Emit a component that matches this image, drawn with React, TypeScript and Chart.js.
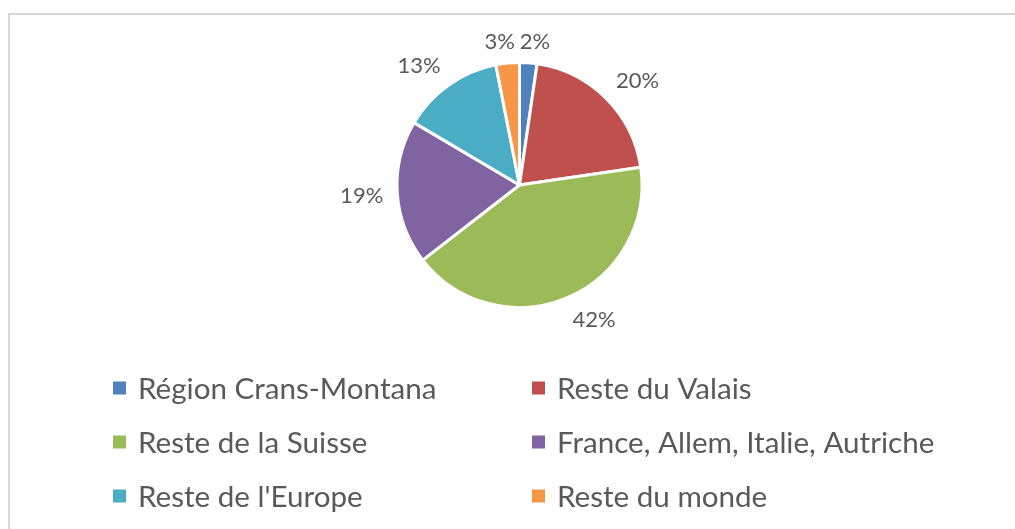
import React, { useEffect, useRef } from "react";
import { Chart, registerables } from "chart.js";

Chart.register(...registerables);

const categories = [
  "Région Crans-Montana",
  "Reste du Valais",
  "Reste de la Suisse",
  "France, Allem, Italie, Autriche",
  "Reste de l'Europe",
  "Reste du monde",
];
const shares = [2.3, 20.4, 41.8, 19.0, 13.4, 3.1];
const colors = ["#4F81BD", "#C0504D", "#9BBB59", "#8064A2", "#4BACC6", "#F79646"];

const FONT = "Lato";
const TEXT_COLOR = "#595959";
const LABEL_SIZE = 22;
const LEGEND_SIZE = 29.6;

const pctLabelPlugin = {
  id: "pctLabels",
  afterDatasetsDraw(chart: any) {
    const ctx = chart.ctx;
    const meta = chart.getDatasetMeta(0);
    const vals = chart.data.datasets[0].data as number[];
    const total = vals.reduce((a, b) => a + b, 0);
    ctx.save();
    ctx.font = `${LABEL_SIZE}px ${FONT}`;
    ctx.fillStyle = TEXT_COLOR;
    ctx.textAlign = "center";
    ctx.textBaseline = "alphabetic";
    const capH = LABEL_SIZE * 0.72;
    const boxes = meta.data.map((arc: any, i: number) => {
      const p = arc.getProps(["x", "y", "startAngle", "endAngle", "outerRadius"], true);
      const mid = (p.startAngle + p.endAngle) / 2;
      const ux = Math.cos(mid);
      const uy = Math.sin(mid);
      const text = Math.round((vals[i] / total) * 100) + "%";
      const w = ctx.measureText(text).width;
      const h = 16;
      const d = p.outerRadius + 14;
      const kx = Math.sign(ux) * Math.min(1, Math.abs(ux) * 2.5);
      const ky = Math.sign(uy) * Math.min(1, Math.abs(uy) * 2.5);
      return { text, w, h, x: p.x + ux * d + (kx * w) / 2, y: p.y + uy * d + (ky * h) / 2 };
    });
    const gap = 5;
    for (let it = 0; it < 20; it++) {
      for (let i = 0; i < boxes.length; i++) {
        for (let j = i + 1; j < boxes.length; j++) {
          const a = boxes[i];
          const b = boxes[j];
          if (Math.abs(a.y - b.y) < (a.h + b.h) / 2) {
            const need = (a.w + b.w) / 2 + gap;
            const dx = b.x - a.x;
            if (Math.abs(dx) < need) {
              const push = (need - Math.abs(dx)) / 2;
              const s = dx >= 0 ? 1 : -1;
              a.x -= s * push;
              b.x += s * push;
            }
          }
        }
      }
    }
    boxes.forEach((b: any) => ctx.fillText(b.text, b.x, b.y + capH / 2));
    ctx.restore();
  },
};

const gridLegendPlugin = {
  id: "gridLegend",
  afterDraw(chart: any) {
    const ctx = chart.ctx;
    const labels = chart.data.labels as string[];
    const bg = chart.data.datasets[0].backgroundColor as string[];
    const capH = LEGEND_SIZE * 0.72;
    ctx.save();
    ctx.font = `${LEGEND_SIZE}px ${FONT}`;
    ctx.textAlign = "left";
    ctx.textBaseline = "alphabetic";
    labels.forEach((lab, i) => {
      const col = i % 2;
      const row = Math.floor(i / 2);
      const mx = col === 0 ? 103 : 522;
      const cy = 373 + row * 54;
      ctx.fillStyle = bg[i];
      ctx.fillRect(mx, cy - 6.5, 13, 13);
      ctx.fillStyle = TEXT_COLOR;
      ctx.fillText(lab, mx + 25, cy + capH / 2);
    });
    ctx.restore();
  },
};

export default function App() {
  const ref = useRef<HTMLCanvasElement | null>(null);
  useEffect(() => {
    if (!ref.current) return;
    const chart = new Chart(ref.current, {
      type: "pie",
      data: {
        labels: categories,
        datasets: [
          {
            data: shares,
            backgroundColor: colors,
            borderColor: "#ffffff",
            borderWidth: 3,
          },
        ],
      },
      options: {
        responsive: false,
        animation: false,
        radius: 122.5,
        layout: { padding: { top: 40, bottom: 214, left: 14, right: 0 } },
        plugins: {
          legend: { display: false },
          tooltip: { enabled: false },
        },
      } as any,
      plugins: [pctLabelPlugin, gridLegendPlugin],
    });
    return () => chart.destroy();
  }, []);
  return (
    <div
      style={{
        position: "absolute",
        left: 8,
        top: 13,
        width: 1007,
        height: 516,
        borderTop: "2px solid #d9d9d9",
        borderLeft: "2px solid #d9d9d9",
        background: "#fff",
      }}
    >
      <canvas ref={ref} width={1005} height={514} style={{ display: "block" }} />
    </div>
  );
}
